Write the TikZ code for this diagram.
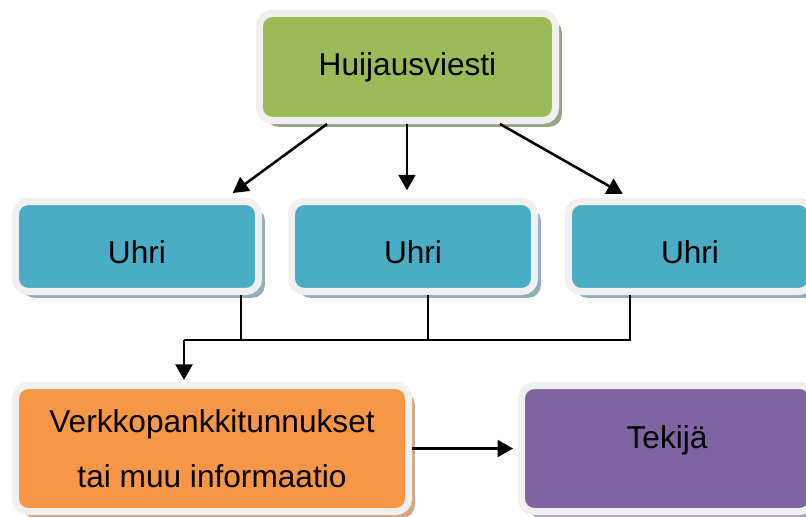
\documentclass[tikz,border=0pt]{standalone}
\usepackage{fontspec}
\setmainfont{Liberation Sans}
\usetikzlibrary{positioning,calc,arrows.meta,shadows}
\definecolor{framegray}{HTML}{F0F0F0}
\definecolor{msgreen}{HTML}{9BBB59}
\definecolor{greenshade}{HTML}{98A585}
\definecolor{msblue}{HTML}{4BACC6}
\definecolor{blueshade}{HTML}{92AEB8}
\definecolor{msorange}{HTML}{F79646}
\definecolor{orangeshade}{HTML}{D4A686}
\definecolor{mspurple}{HTML}{8064A2}
\definecolor{purpleshade}{HTML}{AAA2B6}

\begin{document}
\begin{tikzpicture}[x=0.025cm, y=-0.025cm,
  box/.style 2 args={draw=framegray, line width=5pt, rounded corners=9pt, fill=#1,
    drop shadow={shadow xshift=4.5pt, shadow yshift=-4.5pt, fill=#2, opacity=1},
    font=\fontsize{22.5}{39}\selectfont, align=center, inner sep=0pt},
  victim/.style={box={msblue}{blueshade}, minimum width=6.075cm, minimum height=2.25cm,
    text height=23.5pt, text depth=0pt},
  link/.style={-{Triangle[length=11pt,width=12pt]}, line width=1.8pt},
  busline/.style={line width=1.1pt}
]
  \useasboundingbox (0,0) rectangle (806,517);

  % Message on top
  \node[box={msgreen}{greenshade}, minimum width=7.4cm, minimum height=2.675cm] (msg) at (407.5,67) {Huijausviesti};

  % Victims
  \node[victim] (victim1) at (137,246.5) {Uhri};
  \node[victim] (victim2) at (413,246.5) {Uhri};
  \node[victim] (victim3) at (690,246.5) {Uhri};

  % Bottom row
  \node[box={msorange}{orangeshade}, minimum width=9.825cm, minimum height=3.15cm] (creds) at (212,448.5) {Verkkopankkitunnukset\\tai muu informaatio};
  \node[box={mspurple}{purpleshade}, minimum width=7.275cm, minimum height=3.15cm,
        text height=16pt, text depth=16pt] (fraudster) at (667,448.5) {Tekijä};

  % Message to victims
  \draw[link, shorten >=6pt] ($(msg.south)+(-80.5,0)$) -- ($(victim1.north)+(89,0)$);
  \draw[link, shorten >=5.5pt] ($(msg.south)+(-0.5,0)$) -- ($(msg.south |- victim2.north)+(-0.5,0)$);
  \draw[link, shorten >=6pt] ($(msg.south)+(92.5,0)$) -- ($(victim3.north)+(-60,0)$);

  % Victims to information
  \coordinate (bus) at (184,340);
  \draw[busline] ($(victim1.south)+(104,0)$) |- (bus);
  \draw[busline] ($(victim2.south)+(15,0)$) |- (bus);
  \draw[busline] ($(victim3.south)+(-60,0)$) |- (bus);
  \draw[link, shorten >=1.5pt] (bus) -- (bus |- creds.north);

  % Information to fraudster
  \draw[link, shorten >=3.5pt] (creds.east) -- (fraudster.west);
\end{tikzpicture}
\end{document}
